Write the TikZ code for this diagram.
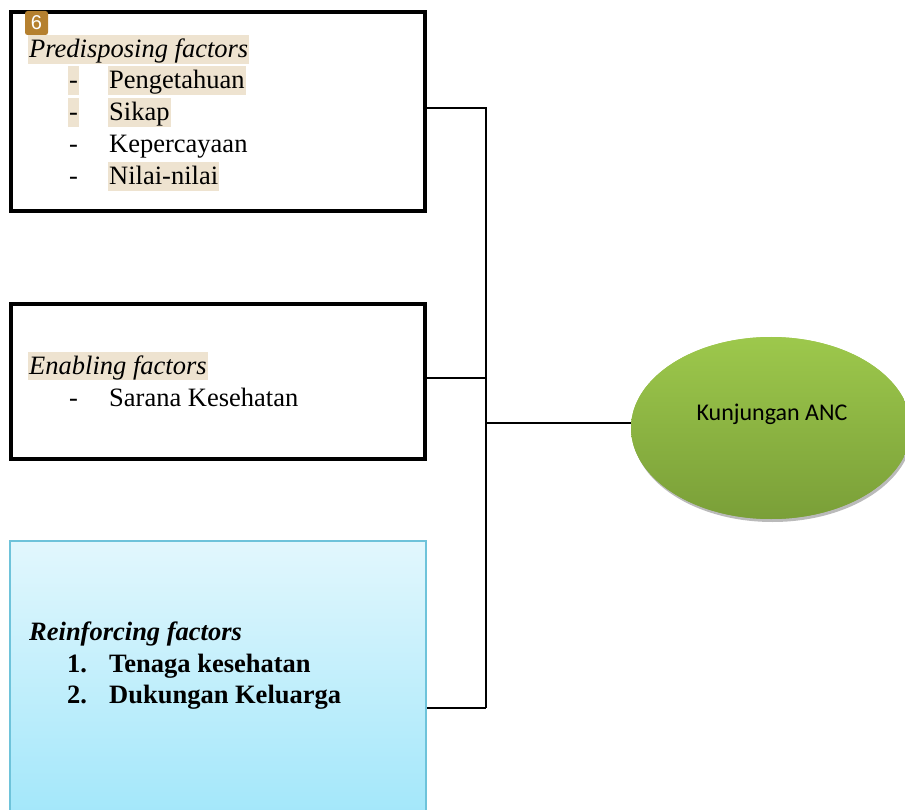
\documentclass[tikz,border=0pt]{standalone}
\usepackage{fontspec}
\setmainfont{Liberation Serif}
\newfontfamily\calfont{Carlito}
\newfontfamily\badgefont{Liberation Sans}
\usetikzlibrary{shapes.geometric,shadows}
\definecolor{hl}{HTML}{EEE3D0}
\definecolor{badge}{HTML}{B5802F}
\definecolor{bluebd}{HTML}{6EC3DA}
\definecolor{bluetop}{HTML}{E2F7FD}
\definecolor{bluebot}{HTML}{A3E7FA}
\definecolor{greentop}{HTML}{9DC84C}
\definecolor{greenbot}{HTML}{7A9F38}
\tikzset{
  factorbox/.style={draw=black, line width=4pt, minimum width=414pt, inner sep=0pt},
  conn/.style={draw=black, line width=2pt},
  txt/.style={anchor=base west, inner xsep=1pt, inner ysep=0pt, font=\fontsize{26.5}{32}\selectfont, text height=22.5pt, text depth=6pt},
  hlt/.style={txt, fill=hl},
  ellfill/.style={ellipse, minimum width=280pt, minimum height=182pt, top color=greentop, bottom color=greenbot, draw=none},
}
\begin{document}
\begin{tikzpicture}[x=1pt,y=-1pt]
\useasboundingbox (0,0) rectangle (905,810);
\clip (0,0) rectangle (905,810);
% boxes
\node[factorbox, minimum height=199pt] (b1) at (218,111.5) {};
\node[factorbox, minimum height=155pt] (b2) at (218,381.5) {};
\node[draw=bluebd, line width=1.5pt, top color=bluetop, bottom color=bluebot, minimum width=416pt, minimum height=274pt, inner sep=0pt] (b3) at (218,678) {};
% junctions
\coordinate (j1) at (486,108);
\coordinate (j2) at (486,378);
\coordinate (j3) at (486,423);
\coordinate (j4) at (486,708);
% ellipse
\node[ellfill, drop shadow={shadow xshift=1.5pt, shadow yshift=-3pt, fill=black!45, opacity=0.6}] (ell) at (771,428) {};
% connectors
\draw[conn] (b1.east |- j1) -- (j1) -- (j4);
\draw[conn] (b2.east |- j2) -- (j2);
\draw[conn] (b3.east |- j4) -- (j4);
\draw[conn] (j3) -- (ell.west |- j3);
\node[ellfill] (ell2) at (ell) {};
\node[font=\calfont\fontsize{24}{28}\selectfont, anchor=base] (lbl) at (772,420) {Kunjungan ANC};
% badge
\node[fill=badge, rounded corners=2.5pt, minimum width=23pt, minimum height=24pt, inner sep=0pt, text=white, font=\badgefont\fontsize{20}{22}\selectfont] (bd) at (36.5,23) {6};
% box 1 text
\node[hlt, font=\itshape\fontsize{26.5}{32}\selectfont] (t1) at (28,58) {Predisposing factors};
\node[hlt] (d1) at (68,89) {-};
\node[hlt] (i1) at (108,89) {Pengetahuan};
\node[hlt] (d2) at (68,121) {-};
\node[hlt] (i2) at (108,121) {Sikap};
\node[txt] (d3) at (68,153) {-};
\node[txt] (i3) at (108,153) {Kepercayaan};
\node[txt] (d4) at (68,185) {-};
\node[hlt] (i4) at (108,185) {Nilai-nilai};
% box 2 text
\node[hlt, font=\itshape\fontsize{26.5}{32}\selectfont] (t2) at (28,374) {Enabling factors};
\node[txt] (d5) at (68,406) {-};
\node[txt] (i5) at (108,406) {Sarana Kesehatan};
% box 3 text
\node[txt, font=\bfseries\itshape\fontsize{26.5}{32}\selectfont] (t3) at (28,640) {Reinforcing factors};
\node[txt, font=\bfseries\fontsize{26.5}{32}\selectfont] (n1) at (66,672) {1.};
\node[txt, font=\bfseries\fontsize{26.5}{32}\selectfont] (i6) at (108,672) {Tenaga kesehatan};
\node[txt, font=\bfseries\fontsize{26.5}{32}\selectfont] (n2) at (66,703) {2.};
\node[txt, font=\bfseries\fontsize{26.5}{32}\selectfont] (i7) at (108,703) {Dukungan Keluarga};
\end{tikzpicture}
\end{document}
